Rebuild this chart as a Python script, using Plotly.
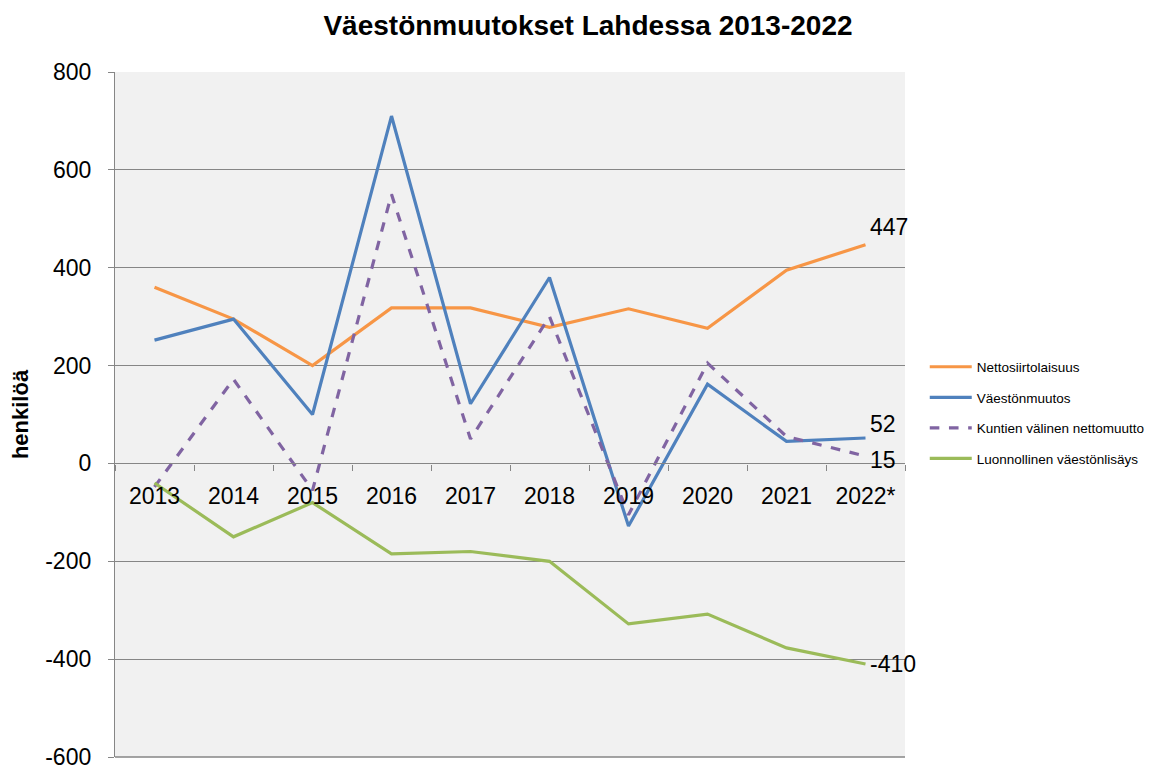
import plotly.graph_objects as go

years = ["2013", "2014", "2015", "2016", "2017", "2018", "2019", "2020", "2021", "2022*"]
nettosiirtolaisuus = [360, 295, 200, 318, 318, 278, 316, 276, 395, 447]
vaestonmuutos = [252, 295, 100, 710, 122, 380, -128, 162, 45, 52]
kuntien_nettomuutto = [-48, 172, -55, 550, 50, 300, -105, 205, 55, 15]
luonnollinen = [-40, -150, -80, -185, -180, -200, -328, -308, -377, -410]
y_ticks = [-600, -400, -200, 0, 200, 400, 600, 800]

series = [
    ("Nettosiirtolaisuus", nettosiirtolaisuus, "#F79646", "solid"),
    ("Väestönmuutos", vaestonmuutos, "#4F81BD", "solid"),
    ("Kuntien välinen nettomuutto", kuntien_nettomuutto, "#8064A2", "dash"),
    ("Luonnollinen väestönlisäys", luonnollinen, "#9BBB59", "solid"),
]

FONT = "Liberation Sans"
fig = go.Figure()
for i, (name, vals, color, dash) in enumerate(series):
    fig.add_trace(go.Scatter(
        x=years, y=vals, name=name, mode="lines",
        line=dict(color=color, width=3.2, dash=dash),
        legendgroup=f"g{i}",
    ))

# end labels
label_offsets = [(2, 18), (2, 14), (2, -4), (2, 0)]
for (name, vals, color, dash), (xs, ys) in zip(series, label_offsets):
    fig.add_annotation(
        x=years[-1], y=vals[-1], xref="x", yref="y",
        text=str(vals[-1]), showarrow=False, xanchor="left", yanchor="middle",
        xshift=xs, yshift=ys, font=dict(family=FONT, size=23, color="#000000"),
    )

# bottom border of plot area (gridline at the range edge)
fig.add_shape(type="line", xref="x domain", yref="y domain", x0=0, x1=1, y0=0, y1=0,
              line=dict(color="#868686", width=1.3), layer="below")

H = 758
ymin, ymax = -600, 800
fig.update_layout(
    width=1160, height=H,
    margin=dict(l=107, r=263, t=64, b=9, autoexpand=False),
    paper_bgcolor="#FFFFFF", plot_bgcolor="#F1F1F1",
    title=dict(text="<b>Väestönmuutokset Lahdessa 2013-2022</b>", x=0.5, xref="container",
               xanchor="center", y=1 - 17 / H, yanchor="middle",
               font=dict(family=FONT, size=28, color="#000000")),
    showlegend=True,
    legend=dict(x=1.025, xanchor="left", y=0.592, yanchor="top",
                font=dict(family=FONT, size=13.5, color="#000000"),
                traceorder="grouped", tracegroupgap=10,
                bgcolor="rgba(0,0,0,0)", itemwidth=42),
    xaxis=dict(
        type="category", anchor="free", position=(0 - ymin) / (ymax - ymin),
        range=[-0.5, len(years) - 0.5], automargin=False,
        showline=True, linecolor="#868686", linewidth=1.3,
        ticks="outside", tickson="boundaries", ticklen=6, tickcolor="#868686",
        ticklabelstandoff=12,
        tickfont=dict(family=FONT, size=23, color="#000000"),
        showgrid=False, zeroline=False,
    ),
    yaxis=dict(
        range=[ymin, ymax], tickvals=y_ticks, ticktext=[str(v) for v in y_ticks],
        domain=[0, 1], automargin=False, ticklabeloverflow="allow",
        showline=True, linecolor="#868686", linewidth=1.3,
        ticks="outside", ticklen=6, tickcolor="#868686",
        ticklabelstandoff=12,
        showgrid=True, gridcolor="#868686", gridwidth=1.2,
        zeroline=False,
        tickfont=dict(family=FONT, size=23, color="#000000"),
        title=dict(text="<b>henkilöä</b>", standoff=11, font=dict(family=FONT, size=22, color="#000000")),
    ),
)

fig.write_html("out.html")
